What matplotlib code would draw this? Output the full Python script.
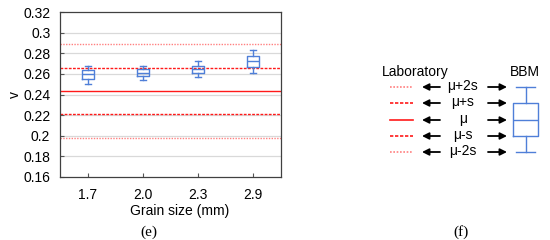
import matplotlib
matplotlib.use("Agg")
import matplotlib.pyplot as plt
from matplotlib.patches import FancyArrowPatch

plt.rcParams['font.family'] = ['Liberation Sans', 'DejaVu Sans']

# ---- data ----
categories = ["1.7", "2.0", "2.3", "2.9"]
whisker_low = [0.2502, 0.2540, 0.2570, 0.2608]
q1 = [0.2550, 0.2576, 0.2608, 0.2664]
median = [0.2596, 0.2608, 0.2647, 0.2722]
q3 = [0.2638, 0.2644, 0.2676, 0.2777]
whisker_high = [0.2680, 0.2680, 0.2722, 0.2834]

lab_mean = 0.2434
lab_std = 0.0226
y_ticks = [0.16, 0.18, 0.2, 0.22, 0.24, 0.26, 0.28, 0.3, 0.32]
legend_labels = ["\u03bc+2s", "\u03bc+s", "\u03bc", "\u03bc-s", "\u03bc-2s"]

RED = "#ff1a1a"
PINK = "#ff8080"
BLUE = "#4f7fd8"
FS = 10

fig = plt.figure(figsize=(5.5, 2.4), dpi=100)
ax = fig.add_axes([60/550, 1-177/240, 221/550, 165/240])

# grid
ax.set_ylim(0.16, 0.32)
ax.set_xlim(-0.5, len(categories) - 0.5)
ax.set_yticks(y_ticks)
ax.set_yticklabels([f"{t:g}" for t in y_ticks])
for t in y_ticks[1:-1]:
    ax.axhline(t, color="#d9d9d9", lw=0.9, zorder=0)

# laboratory lines
lab_levels = [lab_mean + 2*lab_std, lab_mean + lab_std, lab_mean,
              lab_mean - lab_std, lab_mean - 2*lab_std]
lab_styles = [(PINK, (0, (1, 1)), 1.0), (RED, (0, (2, 1)), 1.0), (RED, "-", 1.0),
              (RED, (0, (2, 1)), 1.0), (PINK, (0, (1, 1)), 1.0)]
for lvl, (c, ls, lw) in zip(lab_levels, lab_styles):
    ax.axhline(lvl, color=c, ls=ls, lw=lw, zorder=1)

# boxes
stats = []
for i, cat in enumerate(categories):
    stats.append(dict(whislo=whisker_low[i], q1=q1[i], med=median[i],
                      q3=q3[i], whishi=whisker_high[i], fliers=[], label=cat))
props = dict(color=BLUE, lw=1.0)
ax.bxp(stats, positions=range(len(categories)), widths=0.22, capwidths=0.11,
       showfliers=False, boxprops=props, whiskerprops=props, capprops=props,
       medianprops=props, manage_ticks=False, zorder=3)

ax.set_xticks(range(len(categories)))
ax.set_xticklabels(categories)
ax.tick_params(direction="in", length=3, labelsize=FS, color="#555555", pad=7)
ax.tick_params(axis="x", pad=8)
for s in ax.spines.values():
    s.set_color("#404040")
    s.set_linewidth(0.9)
ax.set_xlabel("Grain size (mm)", fontsize=FS, labelpad=1)
ax.xaxis.label.set_x(0.54)
ax.set_ylabel("v", fontsize=FS, labelpad=1)

fig.text(149/550, 1-232/240, "(e)", family="Liberation Serif", fontsize=11,
         ha="center", va="center")
fig.text(461/550, 1-232/240, "(f)", family="Liberation Serif", fontsize=11,
         ha="center", va="center")

# ---- legend panel (pixel coordinates) ----
lg = fig.add_axes([0, 0, 1, 1])
lg.set_xlim(0, 550)
lg.set_ylim(240, 0)
lg.axis("off")
lg.text(415, 72, "Laboratory", fontsize=FS, ha="center", va="center")
lg.text(525, 72, "BBM", fontsize=FS, ha="center", va="center")
rows = [87, 103, 120, 136, 152]
for y, lab, (c, ls, lw) in zip(rows, legend_labels, lab_styles):
    lg.plot([390, 413], [y, y], color=c, ls=ls, lw=1.2)
    lg.text(463, y - 1, lab, fontsize=FS, ha="center", va="center")
    lg.add_patch(FancyArrowPatch((440, y), (422, y), arrowstyle="-|>",
                                 mutation_scale=10, color="black", lw=1.3,
                                 shrinkA=0, shrinkB=0))
    lg.add_patch(FancyArrowPatch((488, y), (507, y), arrowstyle="-|>",
                                 mutation_scale=10, color="black", lw=1.3,
                                 shrinkA=0, shrinkB=0))
lg.bxp([dict(whislo=rows[4], q1=rows[3], med=rows[2], q3=rows[1],
             whishi=rows[0], fliers=[])],
       positions=[525.5], widths=25, capwidths=19, showfliers=False,
       boxprops=props, whiskerprops=props, capprops=props, medianprops=props,
       manage_ticks=False)
lg.set_xlim(0, 550)
lg.set_ylim(240, 0)
lg.axis("off")

fig.savefig("out.png", dpi=100)
